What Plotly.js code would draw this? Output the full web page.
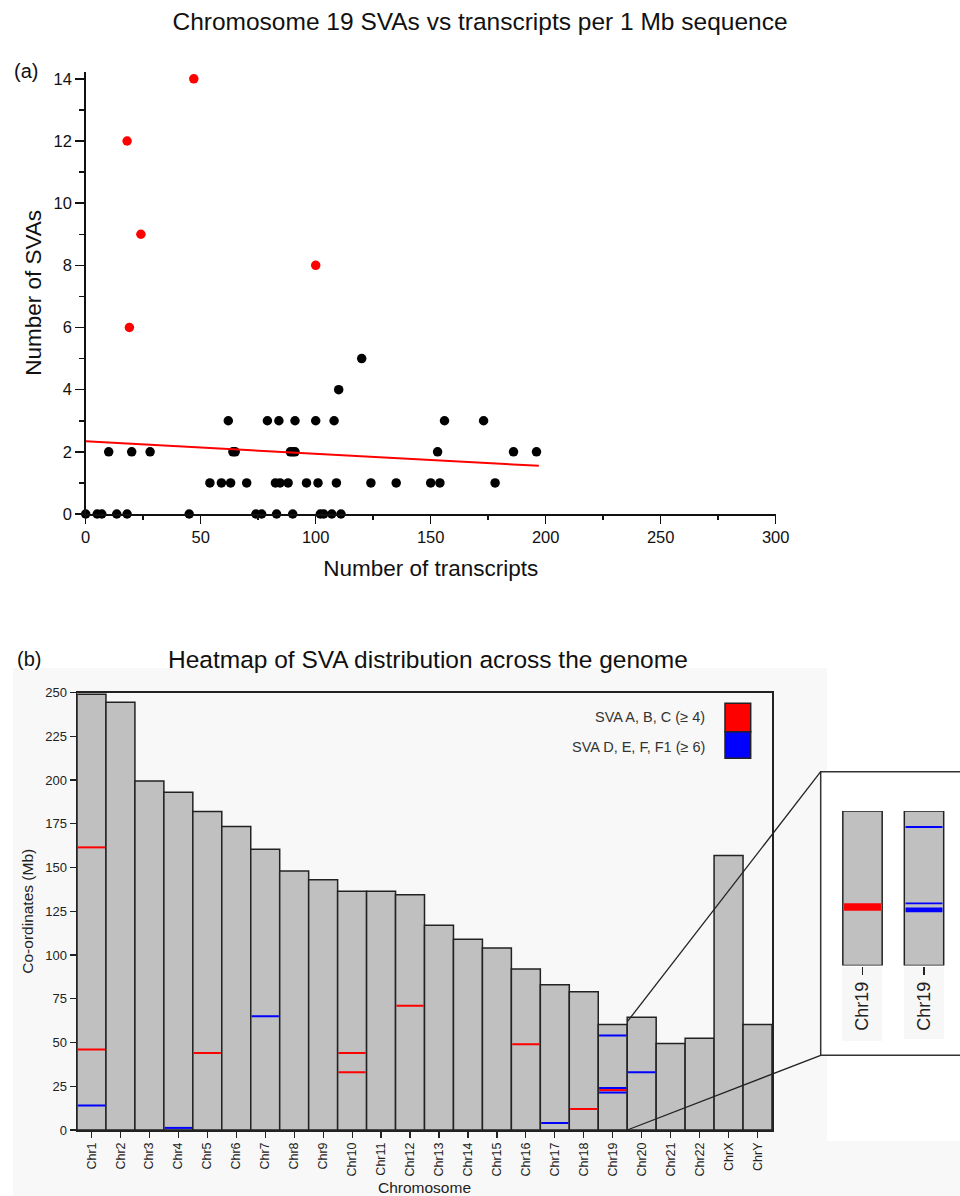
<!DOCTYPE html>
<html>
<head>
<meta charset="utf-8">
<script src="https://cdn.plot.ly/plotly-3.0.1.min.js"></script>
<style>html,body{margin:0;padding:0;background:#fff;}#chart{width:960px;height:1196px;}</style>
</head>
<body>
<div id="chart"></div>
<script>
// ---------- Panel (a) data: SVAs vs transcripts per 1 Mb ----------
var transcripts = [0, 5, 7, 13.5, 18, 45, 74, 76.5, 83, 90, 102, 103.5, 107, 111,
  54, 59, 63, 70, 82.5, 84.5, 88, 96, 101, 109, 124, 135, 150, 154, 178,
  10, 20, 28, 64, 65, 89, 90, 91, 153, 186, 196,
  62, 79, 84, 91, 100, 108, 156, 173,
  110, 120];
var svas = [0, 0, 0, 0, 0, 0, 0, 0, 0, 0, 0, 0, 0, 0,
  1, 1, 1, 1, 1, 1, 1, 1, 1, 1, 1, 1, 1, 1, 1,
  2, 2, 2, 2, 2, 2, 2, 2, 2, 2, 2,
  3, 3, 3, 3, 3, 3, 3, 3,
  4, 5];
var outlierTranscripts = [47, 18, 24, 19, 100];
var outlierSvas = [14, 12, 9, 6, 8];
var fitX = [0, 197];
var fitY = [2.34, 1.55];

// ---------- Panel (b) data: heatmap of SVA distribution ----------
var chromosomes = ['Chr1','Chr2','Chr3','Chr4','Chr5','Chr6','Chr7','Chr8','Chr9','Chr10','Chr11','Chr12',
  'Chr13','Chr14','Chr15','Chr16','Chr17','Chr18','Chr19','Chr20','Chr21','Chr22','ChrX','ChrY'];
var chrLengths = [249, 244.5, 199.5, 193, 182, 173.5, 160.5, 148, 143, 136.5, 136.5, 134.5,
  117, 109, 104, 92, 83, 79, 60.3, 64.5, 49.5, 52.5, 156.8, 60.3];
var bandChr = ['Chr1','Chr1','Chr1','Chr4','Chr5','Chr7','Chr10','Chr10','Chr12','Chr16','Chr17','Chr18',
  'Chr19','Chr19','Chr19','Chr19','Chr20'];
var bandPos = [161.5, 46, 14, 1.2, 44, 65, 44, 33, 71, 49, 4, 12, 54, 24, 22.8, 21.4, 33];
var bandType = ['ABC','ABC','DEF','DEF','ABC','DEF','ABC','ABC','ABC','ABC','DEF','ABC',
  'DEF','DEF','ABC','DEF','DEF'];
var legendLabels = ['SVA A, B, C (\u2265 4)', 'SVA D, E, F, F1 (\u2265 6)'];
var typeColors = {ABC: '#ff0000', DEF: '#0000ff'};

// Inset: Chr19 split by SVA subfamily group
var insetLabels = ['Chr19', 'Chr19'];
var insetLane = [0, 1, 1, 1];
var insetFrom = [21.4, 53.7, 23.9, 20.8];
var insetTo = [24.3, 54.4, 24.6, 22.6];
var insetType = ['ABC', 'DEF', 'DEF', 'DEF'];

// ---------- helpers (page pixel -> paper) ----------
function px(x) { return x / 960; }
function py(y) { return 1 - y / 1196; }
var FONT = 'Liberation Sans, Arial, sans-serif';

var chr19Len = chrLengths[chromosomes.indexOf('Chr19')];

var traces = [
  {type: 'scatter', mode: 'markers', x: transcripts, y: svas, xaxis: 'x', yaxis: 'y',
   marker: {color: '#000', size: 9.5}, cliponaxis: false, hoverinfo: 'x+y'},
  {type: 'scatter', mode: 'markers', x: outlierTranscripts, y: outlierSvas, xaxis: 'x', yaxis: 'y',
   marker: {color: '#ff0000', size: 9.5}, cliponaxis: false},
  {type: 'scatter', mode: 'lines', x: fitX, y: fitY, xaxis: 'x', yaxis: 'y',
   line: {color: '#ff0000', width: 2}},
  {type: 'bar', x: chromosomes, y: chrLengths, xaxis: 'x2', yaxis: 'y2', width: 1,
   marker: {color: '#c0c0c0', line: {color: '#222', width: 1.5}}},
  {type: 'bar', x: [0, 1], y: [chr19Len, chr19Len], xaxis: 'x3', yaxis: 'y3', width: 0.64,
   marker: {color: '#c0c0c0', line: {color: '#222', width: 1.5}}}
];

var shapes = [
  // panel (b) light background
  {type: 'rect', xref: 'paper', yref: 'paper', x0: px(13), x1: px(960), y0: py(1196), y1: py(668),
   fillcolor: '#f8f8f8', line: {width: 0}, layer: 'below'},
  {type: 'rect', xref: 'paper', yref: 'paper', x0: px(827), x1: px(960), y0: py(1141), y1: py(660),
   fillcolor: '#ffffff', line: {width: 0}, layer: 'below'},
  // inset box
  {type: 'rect', xref: 'paper', yref: 'paper', x0: px(820.7), x1: px(965), y0: py(1055.3), y1: py(771.7),
   fillcolor: '#ffffff', line: {color: '#333', width: 1.5}, layer: 'below'},
  // inset label backgrounds
  {type: 'rect', xref: 'paper', yref: 'paper', x0: px(842), x1: px(882), y0: py(1041), y1: py(967),
   fillcolor: '#f7f7f7', line: {width: 0}, layer: 'below'},
  {type: 'rect', xref: 'paper', yref: 'paper', x0: px(904), x1: px(944), y0: py(1039), y1: py(967),
   fillcolor: '#f7f7f7', line: {width: 0}, layer: 'below'}
];

// bands on the genome bars
for (var i = 0; i < bandChr.length; i++) {
  var idx = chromosomes.indexOf(bandChr[i]);
  shapes.push({type: 'line', xref: 'x2', yref: 'y2', x0: idx - 0.47, x1: idx + 0.47,
    y0: bandPos[i], y1: bandPos[i], line: {color: typeColors[bandType[i]], width: 2}});
}
// bands on the inset
for (var j = 0; j < insetLane.length; j++) {
  shapes.push({type: 'rect', xref: 'x3', yref: 'y3', x0: insetLane[j] - 0.3, x1: insetLane[j] + 0.3,
    y0: insetFrom[j], y1: insetTo[j], fillcolor: typeColors[insetType[j]], line: {width: 0}});
}
// zoom connector lines
shapes.push({type: 'line', xref: 'paper', yref: 'paper', x0: px(627.3), y0: py(1021.7), x1: px(820.7), y1: py(771.7),
  line: {color: '#222', width: 1.3}});
shapes.push({type: 'line', xref: 'paper', yref: 'paper', x0: px(627.3), y0: py(1130), x1: px(820.7), y1: py(1055.3),
  line: {color: '#222', width: 1.3}});
// legend swatches
shapes.push({type: 'rect', xref: 'paper', yref: 'paper', x0: px(725), x1: px(750.7), y0: py(731.7), y1: py(703.3),
  fillcolor: typeColors.ABC, line: {color: '#222', width: 1.5}});
shapes.push({type: 'rect', xref: 'paper', yref: 'paper', x0: px(725), x1: px(750.7), y0: py(758.3), y1: py(731.7),
  fillcolor: typeColors.DEF, line: {color: '#222', width: 1.5}});

var annotations = [
  {text: '(a)', xref: 'paper', yref: 'paper', x: px(26), y: py(71), xanchor: 'center', yanchor: 'middle',
   showarrow: false, font: {family: FONT, size: 20, color: '#111'}},
  {text: '(b)', xref: 'paper', yref: 'paper', x: px(29), y: py(659), xanchor: 'center', yanchor: 'middle',
   showarrow: false, font: {family: FONT, size: 20, color: '#111'}},
  {text: 'Heatmap of SVA distribution across the genome', xref: 'paper', yref: 'paper', x: px(428), y: py(659),
   xanchor: 'center', yanchor: 'middle', showarrow: false, font: {family: FONT, size: 24.5, color: '#111'}},
  {text: legendLabels[0], xref: 'paper', yref: 'paper', x: px(707), y: py(717), xanchor: 'right', yanchor: 'middle',
   showarrow: false, font: {family: FONT, size: 14.5, color: '#333'}},
  {text: legendLabels[1], xref: 'paper', yref: 'paper', x: px(707), y: py(747), xanchor: 'right', yanchor: 'middle',
   showarrow: false, font: {family: FONT, size: 14.5, color: '#333'}}
];

var layout = {
  width: 960, height: 1196,
  margin: {l: 0, r: 0, t: 0, b: 0},
  paper_bgcolor: '#ffffff', plot_bgcolor: 'rgba(0,0,0,0)',
  showlegend: false,
  font: {family: FONT, color: '#111'},
  title: {text: 'Chromosome 19 SVAs vs transcripts per 1 Mb sequence', x: px(480), xanchor: 'center',
    y: py(21), yanchor: 'middle', yref: 'paper', font: {family: FONT, size: 24.5, color: '#111'}},
  xaxis: {domain: [px(85.7), px(775.7)], range: [0, 300], anchor: 'y', showgrid: false, zeroline: false,
    showline: true, linecolor: '#111', linewidth: 1.5, ticks: 'outside', ticklen: 8, tickwidth: 1.5, tickcolor: '#111',
    tickvals: [0, 50, 100, 150, 200, 250, 300],
    minor: {tickvals: [25, 75, 125, 175, 225, 275], ticks: 'outside', ticklen: 4, tickwidth: 1.5, tickcolor: '#111', showgrid: false},
    tickfont: {family: FONT, size: 16.5, color: '#111'},
    title: {text: 'Number of transcripts', font: {family: FONT, size: 22.5, color: '#111'}, standoff: 15}},
  yaxis: {domain: [py(514), py(71.7)], range: [0, 14.23], anchor: 'x', showgrid: false, zeroline: false,
    showline: true, linecolor: '#111', linewidth: 1.5, ticks: 'outside', ticklen: 9, tickwidth: 1.5, tickcolor: '#111',
    tickvals: [0, 2, 4, 6, 8, 10, 12, 14],
    minor: {tickvals: [1, 3, 5, 7, 9, 11, 13], ticks: 'outside', ticklen: 5, tickwidth: 1.5, tickcolor: '#111', showgrid: false},
    tickfont: {family: FONT, size: 16.5, color: '#111'},
    title: {text: 'Number of SVAs', font: {family: FONT, size: 22.5, color: '#111'}, standoff: 5}},
  xaxis2: {domain: [px(77), px(772)], range: [-0.5, 23.5], anchor: 'y2', type: 'category', showgrid: false,
    zeroline: false, showline: true, mirror: true, linecolor: '#222', linewidth: 1.5,
    ticks: 'outside', ticklen: 6, tickwidth: 1.2, tickcolor: '#222', tickangle: -90,
    tickfont: {family: FONT, size: 12.5, color: '#222'},
    title: {text: 'Chromosome', font: {family: FONT, size: 15.5, color: '#222'}, standoff: 6}},
  yaxis2: {domain: [py(1130), py(692.5)], range: [0, 250], anchor: 'x2', showgrid: false, zeroline: false,
    showline: true, mirror: true, linecolor: '#222', linewidth: 1.5, dtick: 25, tick0: 0,
    ticks: 'outside', ticklen: 6, tickwidth: 1.2, tickcolor: '#222',
    tickfont: {family: FONT, size: 13, color: '#222'},
    title: {text: 'Co-ordinates (Mb)', font: {family: FONT, size: 15.5, color: '#222'}, standoff: 8}},
  xaxis3: {domain: [px(831.75), px(954.75)], range: [-0.5, 1.5], anchor: 'y3', showgrid: false, zeroline: false,
    showline: false, tickvals: [0, 1], ticktext: insetLabels, ticks: 'outside', ticklen: 8, tickwidth: 1.5,
    tickcolor: '#222', tickangle: -90, tickfont: {family: FONT, size: 18, color: '#222'}},
  yaxis3: {domain: [py(965.5), py(811)], range: [0, chr19Len], anchor: 'x3', visible: false},
  shapes: shapes,
  annotations: annotations
};

Plotly.newPlot('chart', traces, layout, {staticPlot: true, displayModeBar: false});
</script>
</body>
</html>
